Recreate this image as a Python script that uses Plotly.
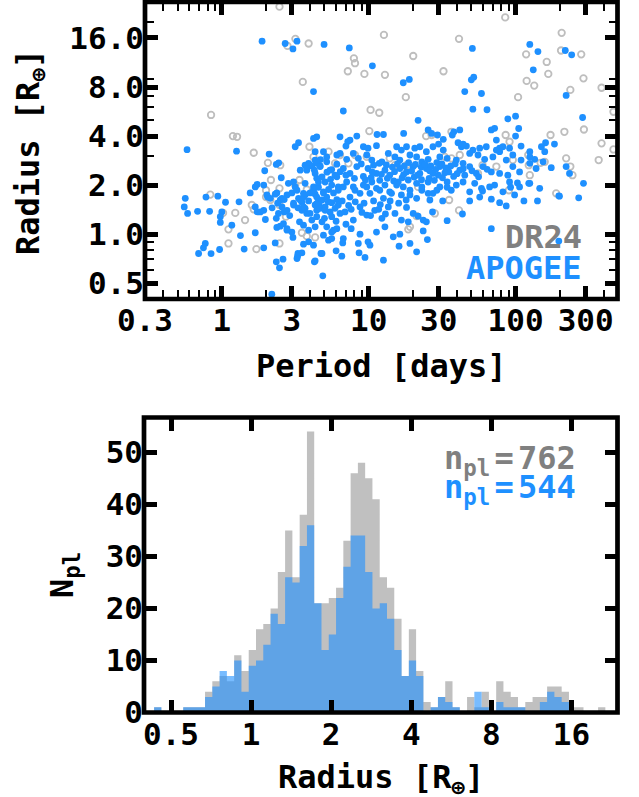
import numpy as np
import plotly.graph_objects as go

# ---------------- data: top panel (period [days], radius [R_earth]) ----------------
apogee_period = [
 1.88,2.70,3.25,3.05,4.21,4.97,7.38,10.6,17.2,18.9,50.8,125,142,218,241,132,221,50.0,51.9,45.1,58.6,51.2,63.9,6.72,21.7,88.6,100,286,105,0.58,1.26,
 0.564,0.78,0.94,1.06,1.31,0.555,0.585,0.684,0.826,1.0,0.977,0.977,1.17,1.34,0.772,0.75,0.695,0.845,0.966,1.42,1.56,
 1.74,1.96,2.10,2.35,2.44,2.54,1.69,1.93,2.19,2.31,2.35,2.47,2.61,2.78,2.37,2.5,2.35,1.98,1.69,1.74,1.83,1.93,2.05,2.66,2.78,2.31,2.5,2.66,2.43,2.57,
 2.03,2.14,2.37,2.57,2.78,3.0,3.08,3.33,3.51,3.69,3.99,4.32,2.63,2.78,3.0,1.69,1.93,3.05,3.30,3.25,3.51,3.6,4.27,3.9,4.1,4.43,4.32,4.55,4.87,3.28,4.21,4.81,5.33,5.6,
 4.27,4.67,5.18,5.6,6.07,3.9,4.1,4.43,4.81,5.05,5.5,6.07,4.21,4.55,4.92,5.33,5.76,6.21,4.43,4.81,5.18,5.6,6.07,4.67,5.05,5.46,5.9,6.38,3.79,4.43,4.81,5.18,5.6,6.07,
 3.25,3.42,3.6,3.69,3.51,3.08,3.38,3.6,3.9,3.16,2.84,3.08,3.79,3.69,4.32,4.7,
 68.4,72,74,77.9,41.7,37.1,38,25.4,26.8,29.4,32.2,29.9,40.6,42.8,46.3,43.9,17.3,11.4,12.6,6.38,7.2,7.0,7.46,8.3,4.21,4.43,100,109,184,160,150,3.16,3.33,
 4.32,4.92,6.38,9.2,9.9,11.3,15.5,16.7,18.1,20.6,22.3,24.7,27.4,32.2,51.2,57,63.2,74,82,91,125,158,
 3.69,3.99,4.43,5.18,6.07,7.08,7.86,8.5,9.7,10.5,12.3,13.6,15.1,16.3,19.1,21.2,23.0,25.4,29.1,30.5,34.2,39.5,43.9,48.7,55.5,61.6,70.1,77.9,86.4,95.8,109,125,135,154,175,
 3.42,3.79,4.32,4.67,5.46,5.9,6.72,7.46,8.3,9.2,9.9,11.3,12.9,13.9,16.3,18.1,20.1,22.3,24.7,27.4,30.5,35.1,37.9,41.7,45.1,48.7,54.1,60,68.4,77.9,88.6,95.8,106.5,125,138,221,233,
 3.6,4.21,4.55,4.92,5.6,6.21,7.08,7.86,8.73,9.7,10.5,11.9,12.9,14.3,15.9,17.2,19.1,21.2,23,25.4,27.4,30.5,34.2,36.5,39.5,43.9,48.7,52.7,58.6,66.6,72,82,91,103,125,146,199,290,
 6.72,7.46,8.07,9.2,10.2,11.3,12.6,13.9,15.5,16.7,19.1,21.2,23,25.4,29.1,
 6.9,7.86,8.73,9.7,11.0,12.3,13.6,15.1,16.7,18.1,20.1,21.7,23.5,24.7,27.2,18.6,34.2,43.5,3.6,3.99,4.43,5.05,5.6,6.21,
 4.32,4.92,5.76,6.72,7.6,8.73,9.9,11.3,12.9,14.7,16.3,19.1,21.2,16.1,12.6,10.2,8.6,9.44,8.5,6.66,6.0,6.56,4.73,4.32,25.1,23.5,68.4,197,
 34.2,31.9,48.7,57,59.6,68.4,77.9,86.4,92.5,98.5,106.5,114,123,141,197,269,26.1,
 8.9,10.8,11.8,13.2,14.5,15.7,17.5,18.7,20.8,22.8,24.2,26.5,28.6,31.5,33.5,36.2,38.8,8.0,9.5,10.4,11.9,13.4,14.8,16.9,18.6,20.4,22.9,25.8,28.0,31.8,
 5.2,6.4,7.0,10.6,12.2,15.0,17.3,19.6,21.5,26.0,29.8,33.0,40.0,44.0,50.5,56.0,64.0,
 3.3,3.9,4.6,5.3,6.6,7.3,8.1,9.3,10.8,12.0,14.0,16.0,18.0,7.6,9.0,10.3,11.7,13.0,5.0,6.0,7.0,2.9,2.2,2.4,
]
apogee_radius = [
 15.3,14.8,15.3,13.7,7.5,14.6,13.9,10.8,8.5,8.9,13.8,14.6,13.2,13.4,12.6,10.2,7.1,8.85,9.2,7.5,7.3,5.85,5.8,5.7,5.0,5.1,5.3,5.2,4.45,3.3,3.23,
 1.66,1.69,1.71,1.57,1.58,1.47,1.34,1.38,1.38,1.37,1.28,1.18,1.135,0.98,0.877,0.824,0.761,0.76,0.805,0.81,1.79,
 2.02,2.45,3.10,2.68,2.74,2.22,1.02,0.824,0.428,0.884,0.676,0.621,0.702,1.058,1.10,1.12,1.25,1.23,1.47,1.37,1.37,1.40,1.69,1.37,1.40,1.76,1.62,1.63,1.34,1.47,
 1.74,1.66,1.79,1.66,1.74,1.79,1.55,1.66,1.57,1.74,1.79,1.76,1.16,1.08,1.03,1.95,2.0,0.955,0.761,0.709,0.767,0.868,0.676,0.897,1.22,1.40,1.51,1.62,0.555,0.733,0.856,0.761,0.919,0.94,
 2.47,2.62,2.78,2.49,2.69,2.72,2.62,2.2,2.25,2.09,2.17,2.25,1.86,1.94,1.79,1.88,1.79,1.95,1.69,1.62,1.69,1.56,1.63,1.44,1.47,1.37,1.44,1.34,1.34,1.28,1.19,1.11,1.03,1.08,
 1.86,1.62,1.69,1.44,1.40,1.51,1.19,1.135,1.058,1.95,2.05,2.09,2.47,2.05,2.85,2.87,
 4.36,4.46,3.78,3.37,4.36,4.06,4.25,4.36,4.15,4.06,3.82,3.57,3.64,3.44,3.47,3.57,4.15,4.09,4.09,3.96,3.7,3.47,3.78,4.0,3.87,3.96,4.0,3.47,3.57,3.64,3.44,3.44,3.64,
 3.21,3.21,3.13,3.44,3.37,3.49,3.44,3.28,3.44,3.37,3.44,3.21,3.44,3.28,3.28,3.37,3.44,3.28,3.44,3.37,3.21,3.21,
 2.65,2.65,2.72,2.98,3.06,2.88,3.13,2.92,3.06,2.85,2.78,3.13,2.98,2.85,3.06,2.98,2.78,2.88,2.75,2.98,2.92,2.85,2.72,3.13,3.06,2.88,2.98,3.21,2.85,3.06,2.85,2.98,2.88,2.78,2.56,
 2.47,2.53,2.36,2.6,2.47,2.30,2.53,2.36,2.6,2.26,2.53,2.36,2.47,2.30,2.53,2.41,2.6,2.36,2.53,2.36,2.6,2.41,2.26,2.47,2.30,2.6,2.36,2.6,2.41,2.36,2.30,2.6,2.41,2.72,2.53,2.6,2.36,
 1.78,1.95,2.09,1.82,2.0,1.86,2.09,1.95,1.78,1.95,2.09,1.86,2.0,1.78,2.09,1.95,1.74,2.05,1.86,2.09,1.78,1.95,2.09,1.86,2.0,2.09,1.82,2.05,1.91,1.95,2.0,1.82,2.09,2.06,2.05,1.91,1.71,2.05,
 1.95,1.69,1.86,2.0,1.78,1.91,1.66,1.82,2.0,1.74,1.86,1.66,1.95,1.78,1.86,
 1.37,1.22,1.47,1.31,1.40,1.25,1.47,1.34,1.22,1.46,1.34,1.29,1.22,1.19,1.37,1.19,1.21,1.33,1.47,1.34,1.54,1.40,1.28,1.51,
 1.11,0.986,1.058,0.94,1.08,1.0,0.897,1.03,1.11,0.963,1.0,0.877,0.779,0.844,0.692,0.856,0.767,0.72,0.877,0.884,0.79,0.733,0.761,0.686,0.927,1.047,1.08,0.907,
 1.94,1.60,1.60,1.69,1.84,1.64,1.56,1.49,1.94,1.74,1.95,1.60,2.05,1.60,1.72,1.67,1.62,
 2.7,2.65,2.72,2.66,2.58,2.7,2.62,2.75,2.68,2.58,2.68,2.62,2.5,2.7,2.55,2.62,2.7,2.2,2.15,2.22,2.14,2.2,2.12,2.22,2.15,2.24,2.16,2.2,2.14,2.22,
 2.4,2.42,2.3,2.4,2.33,2.42,2.32,2.44,2.3,2.45,2.3,2.38,2.35,2.52,2.45,2.25,2.5,
 1.45,1.6,1.52,1.58,1.6,1.5,1.58,1.55,1.6,1.52,1.6,1.55,1.62,1.42,1.36,1.3,1.42,1.33,1.25,1.2,1.15,1.3,1.45,1.55,
]
dr24_period = [
 2.47,2.80,3.17,3.9,3.56,0.845,1.19,1.27,1.65,3.95,2.06,2.5,2.16,2.0,2.47,3.16,3.38,4.21,3.79,0.835,1.02,1.235,1.11,1.44,1.11,1.72,2.47,3.51,3.79,4.32,
 1.6,1.65,2.0,2.14,2.47,2.73,12.7,7.93,8.07,7.21,9.35,12.9,20.1,41.2,85.0,118,206,204,280,163,167,290,119,134,236,385,104,17.9,32.3,10.3,11.8,
 464,292,215,173,385,464,368,85.6,91,36.6,24.6,26.8,10.1,5.33,5.9,6.38,7.28,8.07,9.7,13.9,15.1,18.1,21.7,33.0,36.6,41.7,55.5,59.6,74,90.1,95.8,
 122,123,125,148,158,189,221,236,244,28.2,41.2,18.6,35.3,21.2,19.1,
]
dr24_radius = [
 24.9,14.3,15.8,14.8,8.6,5.39,4.0,3.96,3.16,3.44,2.74,2.65,2.15,1.86,1.91,2.0,2.15,2.98,1.88,1.75,1.35,1.35,1.07,1.22,0.877,0.81,0.877,1.02,0.972,0.955,
 1.51,1.42,1.69,1.62,1.51,1.28,16.7,12.0,11.2,10.0,9.63,9.5,12.4,15.8,21.4,12.7,17.2,13.4,12.7,11.4,9.63,9.04,8.72,8.16,7.68,7.92,6.93,6.93,10.0,5.79,5.56,
 5.64,4.39,4.25,4.06,3.61,3.31,2.85,4.06,3.69,4.25,4.0,4.06,4.29,3.21,2.72,3.06,2.72,3.06,2.98,2.92,2.65,2.65,1.95,2.98,2.92,3.06,2.36,2.65,2.6,1.86,2.85,
 3.06,2.65,2.30,2.74,2.78,1.78,2.92,2.6,2.30,1.34,1.40,1.07,1.62,1.29,1.11,
]

period_ticks = [0.3, 1, 3, 10, 30, 100, 300]
period_ticktext = ["0.3", "1", "3", "10", "30", "100", "300"]
period_minor = [0.4,0.5,0.6,0.7,0.8,0.9,2,4,5,6,7,8,9,20,40,50,60,70,80,90,200,400]
radius_ticks = [0.5, 1, 2, 4, 8, 16]
radius_ticktext_top = ["0.5", "1.0", "2.0", "4.0", "8.0", "16.0"]
radius_minor = [0.6,0.7,0.8,0.9,3,5,6,7,9,20]

# ---------------- data: bottom panel histogram ----------------
bin_lo, bin_hi, n_bins = 0.4055, 22.85, 64
dr24_counts = [0,1,0,0,0,1,1,1,
 4,6,7,6,11,8,12,16,17,20,
 27,35,26,38,54,21,21,22,24,33,
 46,48,45,41,26,24,18,7,16,8,
 2,1,3,6,1,0,3,1,4,0,
 6,4,3,1,2,3,3,5,5,4,
 1,1,0,0,1,0]
apogee_counts = [0,1,0,0,0,1,1,1,
 3,5,8,7,10,4,9,10,13,19,
 17,26,25,32,36,21,12,15,22,28,
 34,34,27,20,21,18,12,7,10,7,
 0,1,3,2,1,0,0,4,1,0,
 2,1,1,1,0,0,2,4,3,2,
 0,0,0,0,0,0]
hist_xticks = [0.5, 1, 2, 4, 8, 16]
hist_xticktext = ["0.5", "1", "2", "4", "8", "16"]
hist_yticks = [0, 10, 20, 30, 40, 50]
n_dr24 = 762
n_apogee = 544

# ---------------- figure ----------------
W, H = 639, 797
def px(x): return x / W
def py(y): return 1 - y / H

BLUE = "#1E90FF"
GRAY_M = "#BEBEBE"
GRAY_T = "#808080"
FONT = "DejaVu Sans Mono"
tickfont = dict(family=FONT, size=31, color="black", weight="bold")

fig = go.Figure()
fig.add_trace(go.Scatter(x=dr24_period, y=dr24_radius, mode="markers",
    marker=dict(symbol="circle-open", size=6.5, color=GRAY_M, line=dict(width=1.8, color=GRAY_M)),
    xaxis="x", yaxis="y", hoverinfo="skip"))
fig.add_trace(go.Scatter(x=apogee_period, y=apogee_radius, mode="markers",
    marker=dict(size=6.8, color=BLUE, line=dict(width=0)),
    xaxis="x", yaxis="y", hoverinfo="skip"))

edges = np.logspace(np.log10(bin_lo), np.log10(bin_hi), n_bins + 1)
for counts, col in [(dr24_counts, "#C0C0C0"), (apogee_counts, "rgba(30,144,255,0.6)")]:
    yy = list(counts) + [counts[-1]]
    fig.add_trace(go.Scatter(x=edges, y=yy, mode="lines", line=dict(shape="hv", width=0, color="rgba(0,0,0,0)"),
        fill="tozeroy", fillcolor=col, xaxis="x2", yaxis="y2", hoverinfo="skip"))

top_dom_x = [px(145), px(617.5)]
top_dom_y = [py(299), py(2)]
bot_dom_x = [px(144), px(617.5)]
bot_dom_y = [py(712.5), py(417.5)]

major = dict(ticks="inside", ticklen=13, tickwidth=4.5, tickcolor="black", mirror="ticks",
             showgrid=False, zeroline=False, showline=False, tickfont=tickfont, automargin=False)
minor = dict(ticks="inside", ticklen=9, tickwidth=2, tickcolor="black", showgrid=False)

fig.update_layout(
    width=W, height=H, margin=dict(l=0, r=0, t=0, b=0, autoexpand=False),
    paper_bgcolor="white", plot_bgcolor="white", showlegend=False,
    xaxis=dict(type="log", domain=top_dom_x, anchor="y", range=[np.log10(0.3), 2.694],
               tickmode="array", tickvals=period_ticks, ticktext=period_ticktext,
               minor=dict(tickmode="array", tickvals=period_minor, **minor), **major),
    yaxis=dict(type="log", domain=top_dom_y, anchor="x", range=[np.log10(0.40), np.log10(26.6)],
               tickmode="array", tickvals=radius_ticks, ticktext=radius_ticktext_top,
               minor=dict(tickmode="array", tickvals=radius_minor, **minor), **major),
    xaxis2=dict(type="log", domain=bot_dom_x, anchor="y2", range=[-0.4026, 1.3772],
                tickmode="array", tickvals=hist_xticks, ticktext=hist_xticktext, **major),
    yaxis2=dict(domain=bot_dom_y, anchor="x2", range=[0, 56.7],
                tickmode="array", tickvals=hist_yticks, **major),
)

frame = dict(type="rect", xref="paper", yref="paper", line=dict(color="black", width=4.7), layer="above")
fig.add_shape(x0=top_dom_x[0], x1=top_dom_x[1], y0=top_dom_y[0], y1=top_dom_y[1], **frame)
fig.add_shape(x0=bot_dom_x[0], x1=bot_dom_x[1], y0=bot_dom_y[0], y1=bot_dom_y[1], **frame)

tfont = dict(family=FONT, size=32, color="black", weight="bold")
def ann(text, x, y, font, xanchor="center", yanchor="middle", angle=0):
    fig.add_annotation(text=text, x=px(x), y=py(y), xref="paper", yref="paper", showarrow=False,
                       font=font, xanchor=xanchor, yanchor=yanchor, textangle=angle)

ann("Period [days]", 381, 366, tfont)
ann("Radius [R<sub>⊕</sub>]", 30, 152, tfont, angle=-90)
ann("Radius [R<sub>⊕</sub>]", 381, 779, tfont)
ann("N<sub>pl</sub>", 64, 575, tfont, angle=-90)

lfont = dict(family=FONT, size=32, weight="bold")
gap = '<span style="font-size:7px"> </span>'
ann("DR24", 584, 237, dict(lfont, color=GRAY_T), xanchor="right")
ann("APOGEE", 584, 268, dict(lfont, color=BLUE), xanchor="right")
ann(f"n<sub>pl</sub>{gap}={gap}{n_dr24}", 578, 460, dict(lfont, color=GRAY_T), xanchor="right")
ann(f"n<sub>pl</sub>{gap}={gap}{n_apogee}", 578, 489, dict(lfont, color=BLUE), xanchor="right")

fig.write_html("out.html", config={"displayModeBar": False},
               post_script="document.body.style.margin='0px';")
